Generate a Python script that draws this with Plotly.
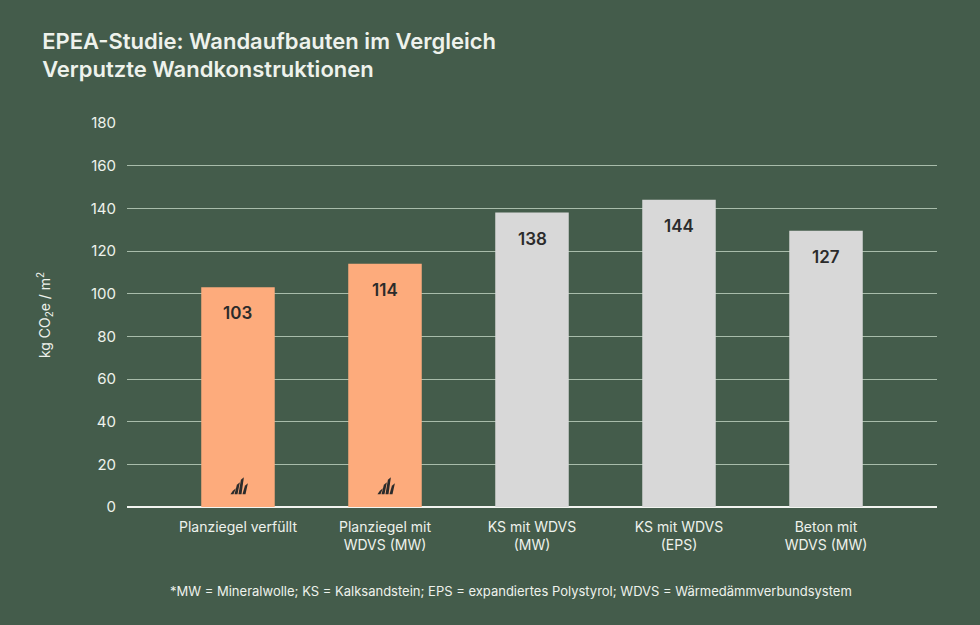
import plotly.graph_objects as go

categories = ["Planziegel verfüllt", "Planziegel mit<br>WDVS (MW)", "KS mit WDVS<br>(MW)",
              "KS mit WDVS<br>(EPS)", "Beton mit<br>WDVS (MW)"]
bar_heights = [103, 114, 138, 144, 129.5]
value_labels = ["103", "114", "138", "144", "127"]
is_brick = [True, True, False, False, False]

BG = "#445c4b"
ORANGE = "#fdab7c"
GREY = "#d8d8d8"
LIGHT = "#eef2ec"
FONT = "Inter, Roboto, Arial, sans-serif"

x = list(range(len(categories)))
fig = go.Figure(go.Bar(
    x=x, y=bar_heights,
    marker=dict(color=[ORANGE if b else GREY for b in is_brick], line_width=0),
    width=0.5, hoverinfo="skip",
))

for i, lab in enumerate(value_labels):
    fig.add_annotation(x=i, y=bar_heights[i], text=lab, showarrow=False,
                       yshift=-26, font=dict(family=FONT, size=17, color="#2b2b2b", weight=600))

# small brick logo at the foot of the orange bars
px_x = 1 / 147.0
px_y = 180 / 384.0
strokes = [(-7.5, 6), (-3.5, 12), (0.5, 17), (4.5, 11)]
for i, b in enumerate(is_brick):
    if not b:
        continue
    for dx, h in strokes:
        x0 = i + dx * px_x
        y0 = 6.0
        w = 3.0 * px_x
        s = 2.4 * px_x
        path = (f"M {x0},{y0} L {x0 + w},{y0} L {x0 + w + s},{y0 + h * px_y} "
                f"L {x0 + s},{y0 + (h - 2.5) * px_y} Z")
        fig.add_shape(type="path", path=path, xref="x", yref="y",
                      fillcolor="#2b2b2b", line_width=0)

fig.update_layout(
    width=980, height=625,
    paper_bgcolor=BG, plot_bgcolor=BG,
    margin=dict(l=127, r=43, t=123, b=118),
    showlegend=False,
    font=dict(family=FONT, color=LIGHT),
    title=dict(text="EPEA-Studie: Wandaufbauten im Vergleich<br>Verputzte Wandkonstruktionen",
               x=0.043, xanchor="left", y=0.922, yanchor="top",
               font=dict(family=FONT, size=22, color=LIGHT, weight=600)),
    xaxis=dict(range=[-0.755, 4.755], tickvals=x, ticktext=categories,
               showgrid=False, zeroline=False, showline=False, ticks="",
               ticklabelstandoff=10,
               tickfont=dict(size=14, color=LIGHT)),
    yaxis=dict(range=[0, 180], dtick=20, showgrid=True, gridcolor="#a8bcaa", gridwidth=1,
               zeroline=True, zerolinecolor="#f2f4f0", zerolinewidth=2,
               showline=False, ticks="", ticklabelstandoff=10,
               tickfont=dict(size=15, color=LIGHT),
               title=dict(text="kg CO<sub>2</sub>e / m<sup>2</sup>", standoff=36,
                          font=dict(size=14, color=LIGHT))),
)

fig.add_annotation(xref="paper", yref="paper", x=0.474, y=-0.219, yanchor="middle",
                   text="*MW = Mineralwolle; KS = Kalksandstein; EPS = expandiertes Polystyrol; WDVS = Wärmedämmverbundsystem",
                   showarrow=False, font=dict(family=FONT, size=13, color=LIGHT))

fig.write_html("out.html", config={"displayModeBar": False},
               post_script="document.body.style.margin='0';document.body.style.background='#445c4b';")
